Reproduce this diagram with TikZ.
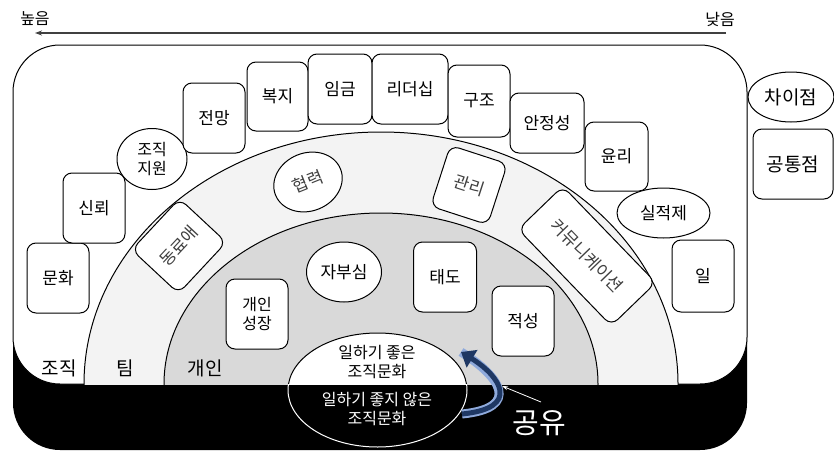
\documentclass[tikz,border=0pt]{standalone}
\usepackage{fontspec}
\setmainfont{Noto Sans CJK KR}
\usetikzlibrary{shapes.geometric,arrows.meta}
\definecolor{teamgray}{HTML}{F3F3F3}
\definecolor{indgray}{HTML}{D9D9D9}
\definecolor{navyarrow}{HTML}{1F3864}
\definecolor{lightarrow}{HTML}{8FAADC}
\definecolor{topline}{HTML}{404040}
\newcommand\lblfont{\fontsize{17}{20}\selectfont}
\newcommand\elfont{\fontsize{16}{19}\selectfont}
\newcommand\bigfont{\fontsize{19}{22}\selectfont}
\begin{document}
\begin{tikzpicture}[x=1pt,y=-1pt,line width=1pt,
  rbox/.style 2 args={draw, fill=white, rounded corners=9pt, minimum width=#1, minimum height=#2, inner sep=0pt, font=\lblfont, align=center},
  obox/.style 2 args={ellipse, draw, fill=white, minimum width=#1, minimum height=#2, inner sep=0pt, font=\lblfont, align=center},
  lvl/.style={font=\bigfont, inner sep=0pt},
  soft/.style={text=black!75}]
\useasboundingbox (0,0) rectangle (834,455);

% top scale
\node[font=\elfont, inner sep=0pt] (high) at (35,19) {높음};
\node[font=\elfont, inner sep=0pt] (low) at (720,19) {낮음};
\coordinate (arrR) at (726,33);
\coordinate (arrL) at (35,33);
\draw[topline, line width=1.2pt, -{Stealth[length=7pt,width=5pt]}] (arrR) -- (arrL);

% main frame
\fill[black, rounded corners=47pt] (13,45) rectangle (747,450);
\filldraw[fill=white, draw=black, rounded corners=47pt] (13,45) rectangle (747,384);

% semi ellipses
\begin{scope}
  \clip (0,0) rectangle (834,384);
  \filldraw[fill=teamgray] (381,384) ellipse [x radius=297pt, y radius=252pt];
  \filldraw[fill=indgray] (381,384) ellipse [x radius=217pt, y radius=171pt];
  \filldraw[fill=white] (377.5,390) ellipse [x radius=89.5pt, y radius=57pt];
\end{scope}
\begin{scope}
  \clip (0,384) rectangle (834,455);
  \draw[white] (377.5,390) ellipse [x radius=89.5pt, y radius=57pt];
\end{scope}

% organization level
\node[rbox={62pt}{70pt}] (munhwa) at (58,278) {문화};
\node[rbox={62pt}{70pt}] (sinroe) at (94,208) {신뢰};
\node[obox={70pt}{61pt}, font=\elfont] (jiwon) at (152,159) {조직\\지원};
\node[rbox={62pt}{70pt}] (jeonmang) at (214,118) {전망};
\node[rbox={61pt}{69pt}] (bokji) at (277.5,96.5) {복지};
\node[rbox={64pt}{70pt}] (imgeum) at (340,89) {임금};
\node[rbox={76pt}{70pt}] (leader) at (410,89) {리더십};
\node[rbox={62pt}{72pt}] (gujo) at (479,101) {구조};
\node[rbox={74pt}{60pt}] (anjeong) at (547,123) {안정성};
\node[rbox={63pt}{69pt}] (yulli) at (616.5,156.5) {윤리};
\node[obox={93pt}{50pt}] (siljeok) at (663.5,213) {실적제};
\node[rbox={62pt}{72pt}] (il) at (703,276) {일};

% team level
\node[rbox={70pt}{64pt}, rotate=47, soft] (dongryo) at (179,246) {동료애};
\node[obox={70pt}{58pt}, rotate=22, soft] (hyeomnyeok) at (308,182) {협력};
\node[rbox={60pt}{64pt}, rotate=-18, soft] (gwalli) at (469,185) {관리};
\node[rbox={134pt}{62pt}, rotate=-46, soft] (comm) at (587,256) {커뮤니케이션};

% individual level
\node[obox={75pt}{60pt}] (jabusim) at (344,272) {자부심};
\node[rbox={62pt}{70pt}, font=\elfont] (seongjang) at (257,314) {개인\\성장};
\node[rbox={63pt}{70pt}] (taedo) at (445,277) {태도};
\node[rbox={62pt}{70pt}] (jeokseong) at (523,321) {적성};

% level labels
\node[lvl] (lorg) at (59,368) {조직};
\node[lvl] (lteam) at (125,368) {팀};
\node[lvl] (lind) at (205,368) {개인};

% culture ellipse texts
\node[font=\elfont, align=center, inner sep=0pt] (good) at (377,362) {일하기 좋은\\조직문화};
\node[font=\elfont, align=center, inner sep=0pt, text=white] (bad) at (377,409) {일하기 좋지 않은\\조직문화};

% sharing arrow
\coordinate (sh0) at (462,414);
\coordinate (sh1) at (461,352);
\draw[lightarrow, line width=9pt] (sh0) .. controls (522,408) and (500,376) .. (sh1);
\draw[navyarrow, line width=5pt, -{Triangle[length=13pt,width=20pt]}] (sh0) .. controls (522,408) and (500,376) .. (sh1);
\node[font=\fontsize{29}{32}\selectfont, text=white, inner sep=0pt] (share) at (539,423) {공유};
\coordinate (ptr) at (541,402);
\coordinate (ptrEnd) at (502,386);
\draw[white, line width=0.8pt, -{Stealth[length=6pt,width=4pt]}] (ptr) -- (ptrEnd);

% legend
\node[obox={86pt}{50pt}, font=\bigfont] (diff) at (791,97) {차이점};
\node[rbox={80pt}{70pt}, font=\bigfont] (common) at (793,164) {공통점};
\end{tikzpicture}
\end{document}
